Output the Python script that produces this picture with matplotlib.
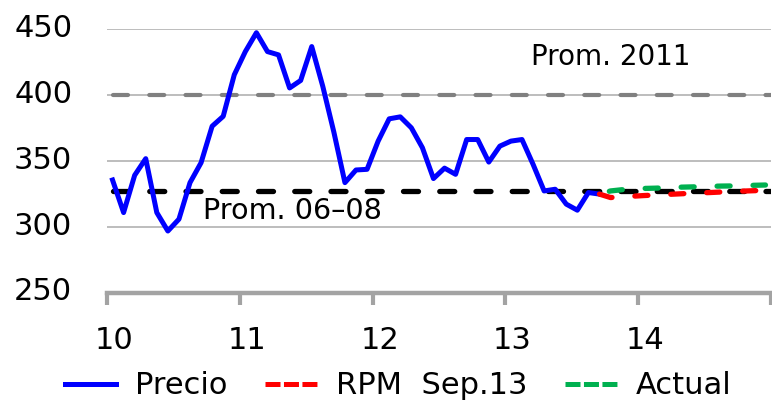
import matplotlib
matplotlib.use("Agg")
import matplotlib.pyplot as plt
from matplotlib.lines import Line2D
from matplotlib.transforms import ScaledTranslation

plt.rcParams["font.family"] = "DejaVu Sans"
plt.rcParams["lines.scale_dashes"] = False

# monthly price, Jan 2010 - Sep 2013
precio = [335.7, 311.0, 339.3, 351.9, 311.0, 297.0, 306.0, 333.7, 348.8, 376.5, 384.0, 415.5,
          433.1, 447.4, 433.1, 430.6, 405.5, 411.2, 436.9, 406.7, 372.0, 333.7, 343.3, 343.8,
          365.2, 382.1, 383.6, 375.3, 360.2, 336.8, 344.7, 340.0, 366.4, 366.4, 349.3, 361.4,
          365.2, 366.4, 347.6, 327.4, 328.7, 317.4, 312.8, 326.2, 325.0]
# projections, Sep 2013 - Dec 2014
rpm_sep13 = [325.0, 322.4, 322.8, 323.4, 323.9, 324.3, 324.7, 325.1, 325.5, 325.9,
             326.2, 326.6, 327.0, 327.3, 327.6, 327.9]
actual = [325.0, 327.4, 328.3, 328.9, 329.3, 329.5, 329.8, 330.2, 330.4, 330.6,
          330.9, 331.1, 331.2, 331.4, 331.7, 331.9]
prom_0608 = 327.4
prom_2011 = 400.0

years = [2010, 2011, 2012, 2013, 2014, 2015]
year_labels = ["10", "11", "12", "13", "14", ""]
y_ticks = [250, 300, 350, 400, 450]

# monthly points sit in the middle of each month
t_precio = [2010 + (i + 0.5) / 12 for i in range(len(precio))]
i0 = len(precio) - 1
t_proj = [2010 + (i0 + i + 0.5) / 12 for i in range(len(rpm_sep13))]
t_all = [t_precio[0], 2015]

W, H = 772, 401
fig = plt.figure(figsize=(W / 100, H / 100), dpi=100)
ax = fig.add_axes([107 / W, 108 / H, 664 / W, 263.7 / H])

ax.set_xlim(2010, 2015)
ax.set_ylim(250, 450)
ax.set_yticks(y_ticks)
ax.set_xticks(years)
ax.set_xticklabels(year_labels)
ax.yaxis.grid(True, color="#ababab", lw=1.1, zorder=0)
ax.set_axisbelow(True)

for s in ["top", "right", "left"]:
    ax.spines[s].set_visible(False)
ax.spines["bottom"].set_color("#a3a3a3")
ax.spines["bottom"].set_linewidth(3.2)
ax.tick_params(axis="x", length=8.5, width=3, color="#a3a3a3", pad=15.5, labelsize=22)
ax.tick_params(axis="y", length=0, pad=25, labelsize=22)

for lab in ax.get_xticklabels():
    lab.set_transform(lab.get_transform() + ScaledTranslation(7 / 100, 0, fig.dpi_scale_trans))
for lab in ax.get_yticklabels():
    lab.set_transform(lab.get_transform() + ScaledTranslation(0, 4 / 100, fig.dpi_scale_trans))

# average reference lines
ax.plot(t_all, [prom_2011, prom_2011], color="#808080", lw=3.0,
        dashes=(10.8, 15.3), dash_capstyle="round", zorder=2)
ax.plot(t_all, [prom_0608, prom_0608], color="black", lw=3.8,
        dashes=(10.8, 15.3), dash_capstyle="round", zorder=2)

ax.plot(t_precio, precio, color="#0000ff", lw=3.6, solid_joinstyle="round", zorder=4,
        clip_on=False)
ax.plot(t_proj, actual, color="#00b050", lw=3.8, linestyle=(18.5, (9.4, 16.5)),
        dash_capstyle="round", zorder=3)
ax.plot(t_proj, rpm_sep13, color="#ff0000", lw=3.8, dashes=(9.4, 16.5),
        dash_capstyle="round", zorder=5)

ax.text(2013.79, 423.1, "Prom. 2011", fontsize=20, ha="center", va="baseline")
ax.text(2010.72, 306.0, "Prom. 06\u201308", fontsize=20.6, ha="left", va="baseline")

handles = [
    Line2D([], [], color="#0000ff", lw=3.6),
    Line2D([], [], color="#ff0000", lw=3.6, dashes=(10.8, 2.5)),
    Line2D([], [], color="#00b050", lw=3.6, dashes=(10.8, 2.5)),
]
fig.legend(handles, ["Precio", "RPM  Sep.13", "Actual"], loc="center",
           bbox_to_anchor=(0.5155, 0.038), ncol=3, frameon=False, fontsize=22,
           handlelength=1.7, handletextpad=0.6, columnspacing=1.25, borderpad=0,
           borderaxespad=0)

fig.savefig("out.png", dpi=100)
